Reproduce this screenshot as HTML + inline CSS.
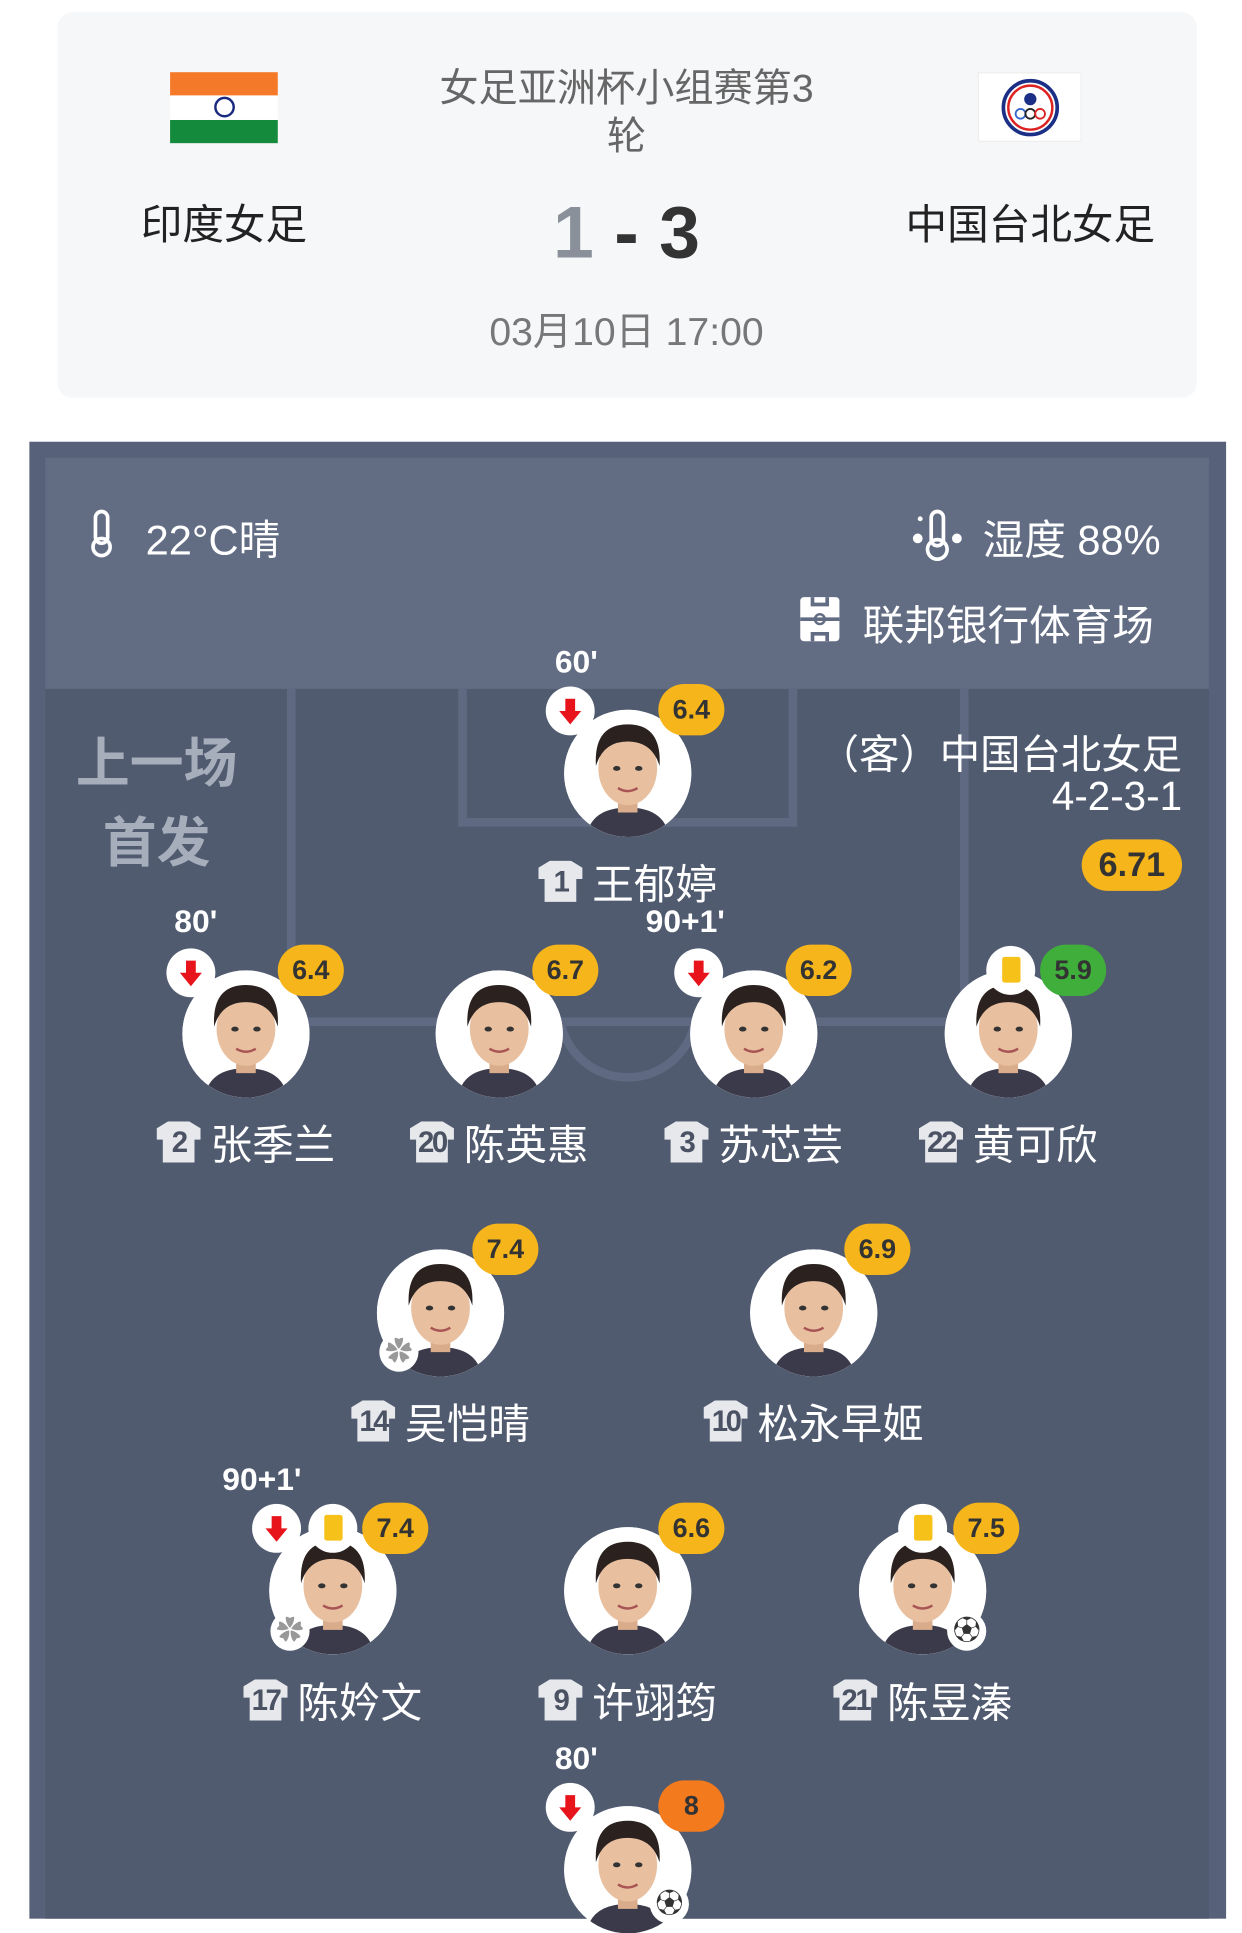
<!DOCTYPE html>
<html><head><meta charset="utf-8"><style>
*{margin:0;padding:0;box-sizing:border-box}
html,body{width:1242px;height:1918px;overflow:hidden;background:#fff}
#w{position:absolute;left:0;top:0;width:1015px;height:1568px;transform:scale(1.22365);transform-origin:0 0;font-family:"Liberation Sans","Noto Sans CJK SC",sans-serif}
.a{position:absolute}
.c{position:absolute;transform:translate(-50%,-50%);white-space:nowrap}
.ph{position:absolute;width:104px;height:104px;border-radius:50%;background:#fff;overflow:hidden}
.r{position:absolute;width:54px;height:42px;border-radius:21px;background:#f6b51a;color:#333;font-weight:bold;font-size:22px;line-height:42px;text-align:center;transform:translate(-50%,-50%)}
.s{position:absolute;width:40px;height:40px;border-radius:50%;background:#fff;transform:translate(-50%,-50%)}
.yc{position:absolute;width:40px;height:40px;border-radius:50%;background:#fff;transform:translate(-50%,-50%)}
.yc:after{content:"";position:absolute;left:13px;top:9px;width:15px;height:21px;background:#f6c21a;border-radius:2px}
.n{position:absolute;transform:translate(-50%,-50%);white-space:nowrap;color:#fff;font-size:34px;display:flex;align-items:center}
.j{display:inline-block;width:36px;height:34px;background:#e6e8ec;color:#4a5264;font-weight:bold;font-size:24px;line-height:36px;text-align:center;margin-right:8px;clip-path:polygon(0 18%,28% 0,72% 0,100% 18%,100% 45%,86% 45%,86% 100%,14% 100%,14% 45%,0 45%);letter-spacing:-2px}
.m{position:absolute;transform:translate(-50%,-50%);color:#fff;font-weight:bold;font-size:26px}
.ic{position:absolute;width:32px;height:32px;border-radius:50%;background:#fff;transform:translate(-50%,-50%);font-size:22px;line-height:32px;text-align:center;color:#333}
</style></head><body><div id="w">
<!-- top card -->
<div class="a" style="left:47px;top:10px;width:931px;height:315px;background:#f6f7f9;border-radius:12px"></div>
<div class="a" style="left:139px;top:59px;width:88px;height:58px">
<div style="height:19px;background:#f47a2a"></div><div style="height:20px;background:#fff;position:relative"><div style="position:absolute;left:36px;top:1px;width:17px;height:17px;border:2px solid #1a2a80;border-radius:50%"></div></div><div style="height:19px;background:#148a3c"></div></div>
<div class="c" style="left:512px;top:70px;font-size:32px;color:#666">女足亚洲杯小组赛第3</div>
<div class="c" style="left:512px;top:109px;font-size:32px;color:#666">轮</div>
<div class="c" style="left:183px;top:181px;font-size:34px;color:#222">印度女足</div>
<div class="c" style="left:842px;top:181px;font-size:34px;color:#222">中国台北女足</div>
<div class="c" style="left:512px;top:190px;font-size:60px;font-weight:bold;color:#333"><span style="color:#8a909a">1</span> - 3</div>
<div class="c" style="left:512px;top:269px;font-size:32px;color:#777">03月10日 17:00</div>
<div class="a" style="left:799px;top:59px;width:85px;height:57px;background:#fff;border:1px solid #eee">
<svg width="85" height="57"><circle cx="42" cy="28" r="22" fill="#fff" stroke="#1b2f86" stroke-width="3"/><circle cx="42" cy="28" r="18" fill="#fff" stroke="#d22" stroke-width="2"/><circle cx="42" cy="21" r="5" fill="#1b2f86"/><g fill="none" stroke-width="1.5"><circle cx="34" cy="33" r="4" stroke="#36c"/><circle cx="42" cy="33" r="4" stroke="#222"/><circle cx="50" cy="33" r="4" stroke="#d22"/></g></svg></div>
<!-- dark panel -->
<div class="a" style="left:24px;top:361px;width:978px;height:1207px;background:#57627a"></div>
<div class="a" style="left:37px;top:374px;width:951px;height:1194px;background:#505b70"></div>
<div class="a" style="left:37px;top:374px;width:951px;height:189px;background:#626d84"></div>
<svg class="a" style="left:0;top:0" width="1015" height="1568"><g fill="none" stroke="#5f6a82" stroke-width="7"><path d="M238 563V835H788V563"/><path d="M378 563V672H648V563"/><path d="M458 835A56 56 0 0 0 568 835"/></g></svg>
<!-- weather -->
<svg class="a" style="left:70px;top:416px" width="26" height="40"><rect x="8" y="2" width="10" height="26" rx="5" fill="none" stroke="#fff" stroke-width="3"/><circle cx="13" cy="31" r="7" fill="none" stroke="#fff" stroke-width="3"/></svg>
<div class="a" style="left:119px;top:414px;font-size:34px;color:#fff">22°C晴</div>
<svg class="a" style="left:744px;top:414px" width="46" height="46"><rect x="17" y="4" width="10" height="28" rx="5" fill="none" stroke="#fff" stroke-width="3"/><circle cx="22" cy="35" r="8" fill="none" stroke="#fff" stroke-width="3"/><circle cx="6" cy="26" r="4" fill="#fff"/><circle cx="38" cy="26" r="4" fill="#fff"/><circle cx="8" cy="10" r="2" fill="#fff"/></svg>
<div class="a" style="left:803px;top:414px;font-size:34px;color:#fff">湿度 88%</div>
<svg class="a" style="left:652px;top:486px" width="36" height="40"><rect x="2" y="2" width="32" height="36" rx="3" fill="#fff"/><path d="M2 20H34M12 2V8H24V2M12 38V32H24V38" stroke="#626d84" stroke-width="3" fill="none"/><circle cx="18" cy="20" r="4" fill="none" stroke="#626d84" stroke-width="2"/></svg>
<div class="a" style="left:705px;top:484px;font-size:34px;color:#fff">联邦银行体育场</div>
<div class="c" style="left:128px;top:620px;font-size:44px;font-weight:bold;color:#a6adbb">上一场</div>
<div class="c" style="left:128px;top:685px;font-size:44px;font-weight:bold;color:#a6adbb">首发</div>
<div class="a" style="right:49px;top:590px;font-size:33px;color:#fff">（客）中国台北女足</div>
<div class="a" style="right:49px;top:632px;font-size:33px;color:#fff">4-2-3-1</div>
<div class="a" style="left:884px;top:686px;width:82px;height:42px;border-radius:21px;background:#f6b51a;font-weight:bold;font-size:28px;line-height:42px;text-align:center;color:#333">6.71</div>

<svg width="0" height="0" style="position:absolute"><defs>
<symbol id="f" viewBox="0 0 104 104"><rect width="104" height="104" fill="#fff"/><path d="M18 104Q22 80 52 80Q82 80 86 104Z" fill="#3a3a4a"/><rect x="44" y="66" width="16" height="18" fill="#d9ac8c"/><ellipse cx="52" cy="48" rx="24" ry="30" fill="#e8c0a0"/><path d="M26 46Q24 12 52 12Q80 12 78 46Q72 26 52 26Q32 26 26 46Z" fill="#2b2220"/><ellipse cx="43" cy="48" rx="3" ry="2" fill="#333"/><ellipse cx="61" cy="48" rx="3" ry="2" fill="#333"/><path d="M44 64Q52 69 60 64" stroke="#a55" stroke-width="2" fill="none"/></symbol>
<symbol id="ar" viewBox="0 0 40 40"><path d="M20 31L11 20H16V10H24V20H29Z" fill="#e8141c"/></symbol>
</defs></svg>

<!-- GK -->
<div class="m" style="left:471px;top:541px">60'</div>
<svg class="ph" style="left:461px;top:580px"><use href="#f"/></svg>
<div class="s" style="left:466px;top:581px"><svg width="40" height="40"><use href="#ar"/></svg></div>
<div class="r" style="left:565px;top:580px">6.4</div>
<div class="n" style="left:513px;top:720px"><span class="j">1</span>王郁婷</div>

<!-- row 2 -->
<div class="m" style="left:160px;top:753px">80'</div>
<svg class="ph" style="left:149px;top:793px"><use href="#f"/></svg>
<div class="s" style="left:156px;top:795px"><svg width="40" height="40"><use href="#ar"/></svg></div>
<div class="r" style="left:254px;top:793px">6.4</div>
<div class="n" style="left:201px;top:933px"><span class="j">2</span>张季兰</div>

<svg class="ph" style="left:356px;top:793px"><use href="#f"/></svg>
<div class="r" style="left:462px;top:793px">6.7</div>
<div class="n" style="left:408px;top:933px"><span class="j">20</span>陈英惠</div>

<div class="m" style="left:560px;top:753px">90+1'</div>
<svg class="ph" style="left:564px;top:793px"><use href="#f"/></svg>
<div class="s" style="left:571px;top:795px"><svg width="40" height="40"><use href="#ar"/></svg></div>
<div class="r" style="left:669px;top:793px">6.2</div>
<div class="n" style="left:616px;top:933px"><span class="j">3</span>苏芯芸</div>

<svg class="ph" style="left:772px;top:793px"><use href="#f"/></svg>
<div class="yc" style="left:826px;top:793px"></div>
<div class="r" style="left:877px;top:793px;background:#3fae3a">5.9</div>
<div class="n" style="left:824px;top:933px"><span class="j">22</span>黄可欣</div>

<!-- row 3 -->
<svg class="ph" style="left:308px;top:1021px"><use href="#f"/></svg>
<div class="r" style="left:413px;top:1021px">7.4</div>
<div class="ic" style="left:326px;top:1105px;color:#999">✿</div>
<div class="n" style="left:360px;top:1161px"><span class="j">14</span>吴恺晴</div>

<svg class="ph" style="left:613px;top:1021px"><use href="#f"/></svg>
<div class="r" style="left:717px;top:1021px">6.9</div>
<div class="n" style="left:665px;top:1161px"><span class="j">10</span>松永早姬</div>

<!-- row 4 -->
<div class="m" style="left:214px;top:1209px">90+1'</div>
<svg class="ph" style="left:220px;top:1248px"><use href="#f"/></svg>
<div class="s" style="left:226px;top:1249px"><svg width="40" height="40"><use href="#ar"/></svg></div>
<div class="yc" style="left:272px;top:1249px"></div>
<div class="r" style="left:323px;top:1249px">7.4</div>
<div class="ic" style="left:237px;top:1333px;color:#999">✿</div>
<div class="n" style="left:272px;top:1389px"><span class="j">17</span>陈妗文</div>

<svg class="ph" style="left:461px;top:1248px"><use href="#f"/></svg>
<div class="r" style="left:565px;top:1249px">6.6</div>
<div class="n" style="left:513px;top:1389px"><span class="j">9</span>许翊筠</div>

<svg class="ph" style="left:702px;top:1248px"><use href="#f"/></svg>
<div class="yc" style="left:754px;top:1249px"></div>
<div class="r" style="left:806px;top:1249px">7.5</div>
<div class="ic" style="left:790px;top:1333px">⚽</div>
<div class="n" style="left:754px;top:1389px"><span class="j">21</span>陈昱溱</div>

<!-- row 5 -->
<div class="m" style="left:471px;top:1437px">80'</div>
<svg class="ph" style="left:461px;top:1476px"><use href="#f"/></svg>
<div class="s" style="left:466px;top:1477px"><svg width="40" height="40"><use href="#ar"/></svg></div>
<div class="r" style="left:565px;top:1476px;background:#f47a1e">8</div>
<div class="ic" style="left:547px;top:1556px">⚽</div>
</div></body></html>
